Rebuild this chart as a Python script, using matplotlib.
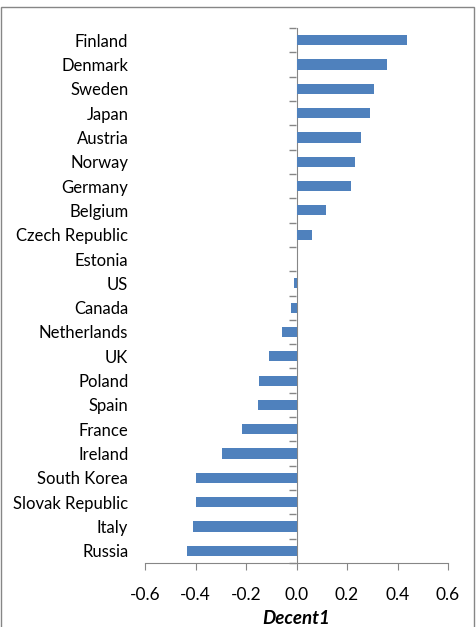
import matplotlib
matplotlib.use("Agg")
import matplotlib.pyplot as plt
from matplotlib.patches import Rectangle
import numpy as np

# categories from bottom to top
countries = ["Russia", "Italy", "Slovak Republic", "South Korea", "Ireland", "France",
             "Spain", "Poland", "UK", "Netherlands", "Canada", "US", "Estonia",
             "Czech Republic", "Belgium", "Germany", "Norway", "Austria", "Japan",
             "Sweden", "Denmark", "Finland"]
decent1 = [-0.434, -0.411, -0.399, -0.397, -0.296, -0.217, -0.153, -0.149, -0.110,
           -0.057, -0.021, -0.010, 0.002, 0.063, 0.115, 0.215, 0.230, 0.255, 0.293,
           0.307, 0.359, 0.436]
xticks = [-0.6, -0.4, -0.2, 0.0, 0.2, 0.4, 0.6]

plt.rcParams['font.family'] = ['Lato', 'DejaVu Sans']
axis_grey = "#868686"

fig = plt.figure(figsize=(4.77, 6.27), dpi=100)
ax = fig.add_axes([145/477, 1-563/627, (448-145)/477, (563-28)/627])

y = np.arange(len(countries))
ax.barh(y, decent1, height=0.42, color="#4F81BD", zorder=2)

ax.set_xlim(-0.6, 0.6)
ax.set_ylim(-0.5, len(countries) - 0.5)
ax.set_xticks(xticks)
ax.set_xticklabels([f"{v:.1f}" for v in xticks], fontsize=12.5)
ax.set_yticks(y)
ax.set_yticklabels(countries, fontsize=12)
ax.tick_params(axis='y', length=0, pad=12)
ax.tick_params(axis='x', length=5, color=axis_grey, direction='out', pad=12)

for s in ["top", "right", "left"]:
    ax.spines[s].set_visible(False)
ax.spines["bottom"].set_color(axis_grey)

# vertical axis line through zero with category tick marks pointing left
sec = ax.secondary_yaxis(0.5)
sec.set_yticks(np.arange(len(countries) + 1) - 0.5)
sec.yaxis.set_ticks_position('left')
sec.set_yticklabels([])
sec.tick_params(axis='y', length=5, width=1, color=axis_grey, direction='out')
for sp in sec.spines.values():
    sp.set_color(axis_grey)

ax.set_xlabel("Decent1", fontsize=13.5, fontweight="bold", fontstyle="italic", labelpad=5)

fig.add_artist(Rectangle((1/477, -0.01), 473/477, 1 - 7/627 + 0.01,
                         transform=fig.transFigure, fill=False,
                         edgecolor=axis_grey, linewidth=1))

fig.savefig("out.png", dpi=100)
